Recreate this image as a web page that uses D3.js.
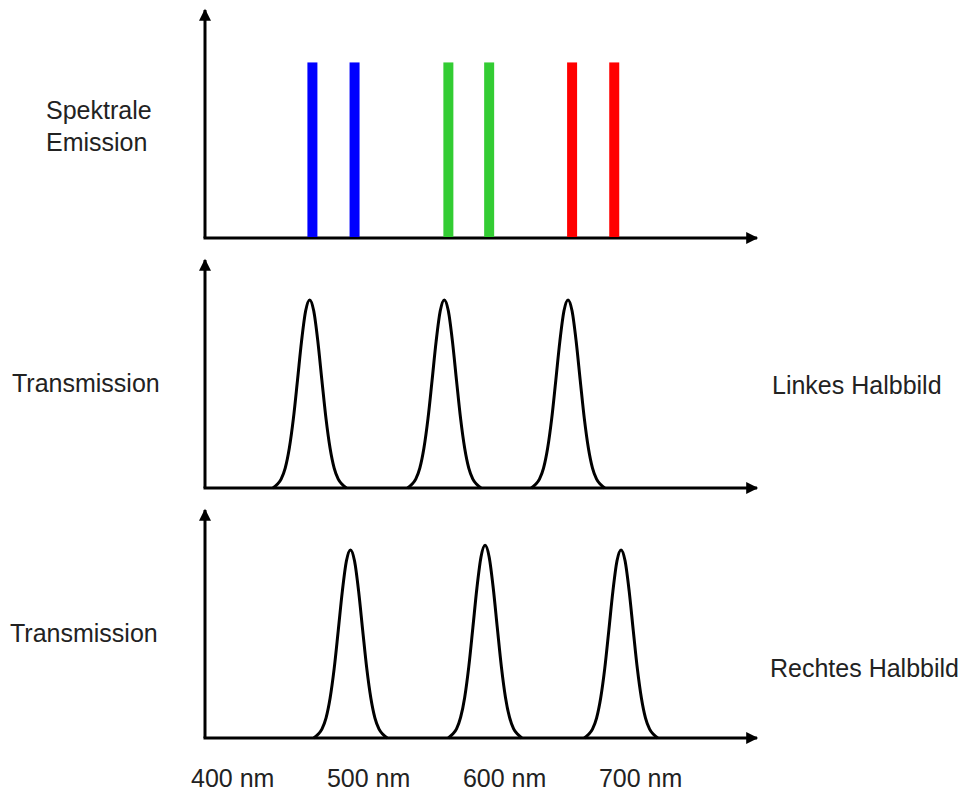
<!DOCTYPE html>
<html>
<head>
<meta charset="utf-8">
<script src="https://cdn.jsdelivr.net/npm/d3@7"></script>
<style>
  body { margin: 0; background: #fff; }
  text { font-family: "Liberation Sans", Arial, sans-serif; font-size: 25px; fill: #222; }
</style>
</head>
<body>
<div id="chart"></div>
<script>
// wavelengths (nm) of the emission lines and their colours
var emissionNm = [459, 490, 559, 589, 650, 681];
var emissionColors = ["#0000ff", "#0000ff", "#33cc33", "#33cc33", "#ff0000", "#ff0000"];
var emissionLevel = 77;

// filter transmission curves as [nm, value]
var leftCurves = [
  [[430,0],[433,1.5],[436,3.9],[439,8.7],[442,17.4],[445,30.4],[448,47.1],[451,64.3],[454,77.6],[457,82.5],[460,77.6],[463,64.3],[466,47.1],[469,30.4],[472,17.4],[475,8.7],[478,3.9],[481,1.5],[484,0]],
  [[529,0],[532,1.5],[535,3.9],[538,8.7],[541,17.4],[544,30.4],[547,47.1],[550,64.3],[553,77.6],[556,82.5],[559,77.6],[562,64.3],[565,47.1],[568,30.4],[571,17.4],[574,8.7],[577,3.9],[580,1.5],[583,0]],
  [[620,0],[623,1.5],[626,3.9],[629,8.7],[632,17.4],[635,30.4],[638,47.1],[641,64.3],[644,77.6],[647,82.5],[650,77.6],[653,64.3],[656,47.1],[659,30.4],[662,17.4],[665,8.7],[668,3.9],[671,1.5],[674,0]]
];
var rightCurves = [
  [[460,0],[463,1.5],[466,3.9],[469,8.7],[472,17.4],[475,30.4],[478,47.1],[481,64.3],[484,77.6],[487,82.5],[490,77.6],[493,64.3],[496,47.1],[499,30.4],[502,17.4],[505,8.7],[508,3.9],[511,1.5],[514,0]],
  [[559,0],[562,1.6],[565,4.0],[568,9.0],[571,17.8],[574,31.2],[577,48.3],[580,65.8],[583,79.4],[586,84.5],[589,79.4],[592,65.8],[595,48.3],[598,31.2],[601,17.8],[604,9.0],[607,4.0],[610,1.6],[613,0]],
  [[659,0],[662,1.5],[665,3.9],[668,8.7],[671,17.4],[674,30.4],[677,47.1],[680,64.3],[683,77.6],[686,82.5],[689,77.6],[692,64.3],[695,47.1],[698,30.4],[701,17.4],[704,8.7],[707,3.9],[710,1.5],[713,0]]
];

var tickNm = [400, 500, 600, 700];

var svgWidth = 973;
var svgHeight = 794;

var svg = d3.select("#chart")
    .append("svg")
    .attr("width", svgWidth)
    .attr("height", svgHeight);

svg.append("defs").append("marker")
    .attr("id", "arrow")
    .attr("viewBox", "0 0 10 10")
    .attr("refX", 9)
    .attr("refY", 5)
    .attr("markerUnits", "userSpaceOnUse")
    .attr("markerWidth", 13)
    .attr("markerHeight", 12)
    .attr("orient", "auto")
  .append("path")
    .attr("d", "M0,0 L10,5 L0,10 Z")
    .attr("fill", "#000");

var x = d3.scaleLinear()
    .domain([380, 786])
    .range([205, 757]);

var panelBase = [238, 488, 738];
var panelHeight = 228;

function yScale(i) {
  return d3.scaleLinear()
    .domain([0, 100])
    .range([panelBase[i], panelBase[i] - panelHeight]);
}

// axes with arrow heads
panelBase.forEach(function(base, i) {
  var y = yScale(i);
  var g = svg.append("g");
  g.append("line")
      .attr("x1", x.range()[0]).attr("y1", y(0))
      .attr("x2", x.range()[0]).attr("y2", y(100))
      .attr("stroke", "#000").attr("stroke-width", 3)
      .attr("marker-end", "url(#arrow)");
  g.append("line")
      .attr("x1", x.range()[0] - 1.5).attr("y1", y(0))
      .attr("x2", x.range()[1]).attr("y2", y(0))
      .attr("stroke", "#000").attr("stroke-width", 3)
      .attr("marker-end", "url(#arrow)");
});

// emission lines
var y0 = yScale(0);
svg.selectAll("rect.emission")
    .data(emissionNm)
    .enter()
    .append("rect")
      .attr("class", "emission")
      .attr("x", d => x(d) - 5)
      .attr("width", 10)
      .attr("y", y0(emissionLevel))
      .attr("height", d => y0(0) - y0(emissionLevel) - 1)
      .attr("fill", (d, i) => emissionColors[i]);

// transmission curves
function drawCurves(curves, i) {
  var y = yScale(i);
  var line = d3.line()
      .x(d => x(d[0]))
      .y(d => y(d[1]))
      .curve(d3.curveMonotoneX);
  svg.append("g").selectAll("path")
      .data(curves)
      .enter()
      .append("path")
        .attr("d", line)
        .attr("fill", "none")
        .attr("stroke", "#000")
        .attr("stroke-width", 3);
}
drawCurves(leftCurves, 1);
drawCurves(rightCurves, 2);

// wavelength labels
var xAxis = d3.axisBottom(x)
    .tickValues(tickNm)
    .tickSize(0)
    .tickPadding(31)
    .tickFormat(d => d + " nm");
var axisG = svg.append("g")
    .attr("transform", `translate(0,${panelBase[2]})`)
    .call(xAxis);
axisG.select(".domain").remove();
axisG.selectAll("text")
    .attr("font-size", null)
    .attr("font-family", null)
    .attr("fill", null)
    .style("font-size", "25px");

// side labels
var labels = [
  {text: "Spektrale", x: 46, y: 119},
  {text: "Emission", x: 46, y: 151},
  {text: "Transmission", x: 12, y: 392},
  {text: "Transmission", x: 10, y: 642},
  {text: "Linkes Halbbild", x: 772, y: 394},
  {text: "Rechtes Halbbild", x: 770, y: 677}
];
svg.selectAll("text.side")
    .data(labels)
    .enter()
    .append("text")
      .attr("class", "side")
      .attr("x", d => d.x)
      .attr("y", d => d.y)
      .text(d => d.text);
</script>
</body>
</html>
